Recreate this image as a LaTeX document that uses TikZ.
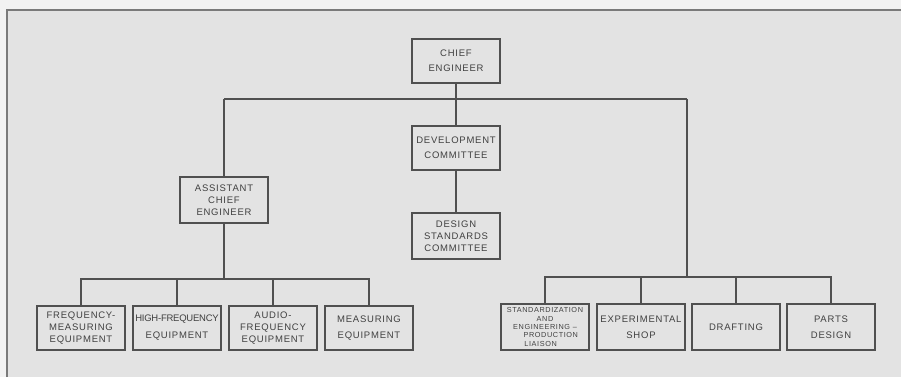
\documentclass[tikz,border=0pt]{standalone}
\usepackage{fontspec}
\setmainfont{Liberation Sans}[LetterSpace=8.0]
\begin{document}
\begin{tikzpicture}[x=1pt,y=-1pt,
  box/.style={draw=boxline, line width=1.5pt, fill=paper, minimum width=88pt, minimum height=44pt,
    inner sep=0pt, align=center, text=ink, font=\fontsize{9.5}{12}\selectfont},
  conn/.style={draw=boxline, line width=1.5pt}]
\definecolor{paper}{HTML}{E3E3E3}
\definecolor{outer}{HTML}{F2F2F2}
\definecolor{boxline}{HTML}{505050}
\definecolor{ink}{HTML}{404040}
\definecolor{frame}{HTML}{7A7A7A}
\useasboundingbox (0,0) rectangle (901,377);
\fill[outer] (0,0) rectangle (901,377);
\fill[paper] (7,10) rectangle (901,377);
\draw[frame, line width=1.5pt] (7,377) -- (7,10) -- (901,10);

% nodes
\node[box] (chief) at (456,61) {CHIEF\\[3pt]ENGINEER};
\node[box] (dev) at (456,148) {DEVELOPMENT\\[3pt]COMMITTEE};
\node[box, minimum height=46pt] (design) at (456,236) {DESIGN\\STANDARDS\\COMMITTEE};
\node[box, minimum height=46pt] (asst) at (224,200) {ASSISTANT\\CHIEF\\ENGINEER};

\node[box] (l1) at (81,328) {FREQUENCY-\\MEASURING\\EQUIPMENT};
\node[box] (l2) at (177,328) {\addfontfeatures{LetterSpace=-2.5}HIGH-FREQUENCY\\[5pt]\addfontfeatures{LetterSpace=8.0}EQUIPMENT};
\node[box] (l3) at (273,328) {AUDIO-\\FREQUENCY\\EQUIPMENT};
\node[box] (l4) at (369,328) {MEASURING\\[4pt]EQUIPMENT};

\node[box, minimum height=46pt, font=\fontsize{7.3}{8.4}\selectfont] (r1) at (545,327)
  {STANDARDIZATION\\AND\\ENGINEERING --\\\hspace*{1.6em}PRODUCTION\\\hspace*{-1.2em}LIAISON};
\node[box, minimum height=46pt] (r2) at (641,327) {EXPERIMENTAL\\[4pt]SHOP};
\node[box, minimum height=46pt] (r3) at (736,327) {DRAFTING};
\node[box, minimum height=46pt] (r4) at (831,327) {PARTS\\[4pt]DESIGN};

% junctions
\coordinate (hl) at (224,99);
\coordinate (hr) at (687,99);
\coordinate (lbus) at (224,279);
\coordinate (rbus) at (687,277);

% connectors
\draw[conn] (chief) -- (dev);
\draw[conn] (dev) -- (design);
\draw[conn] (hl) -- (hr);
\draw[conn] (hl) -- (asst);
\draw[conn] (asst) -- (lbus);
\draw[conn] (hr) -- (rbus);
\draw[conn] (l1.north) -- (l1.north |- lbus) -- (l4.north |- lbus) -- (l4.north);
\draw[conn] (l2.north) -- (l2.north |- lbus);
\draw[conn] (l3.north) -- (l3.north |- lbus);
\draw[conn] (r1.north) -- (r1.north |- rbus) -- (r4.north |- rbus) -- (r4.north);
\draw[conn] (r2.north) -- (r2.north |- rbus);
\draw[conn] (r3.north) -- (r3.north |- rbus);
\end{tikzpicture}
\end{document}
